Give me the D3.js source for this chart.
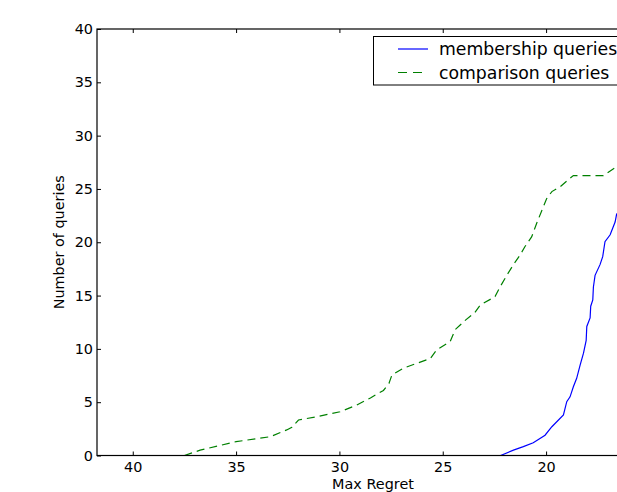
<!DOCTYPE html>
<html>
<head>
<meta charset="utf-8">
<script src="https://cdn.jsdelivr.net/npm/d3@7"></script>
<style>
  html, body { margin: 0; padding: 0; background: #fff; }
  svg { display: block; font-family: "DejaVu Sans", sans-serif; }
</style>
</head>
<body>
<script>
// ---- data ----
const compX = [37.5, 36.74, 35.0, 33.35, 32.55, 32.3, 31.98, 31.1, 29.97, 29.16, 28.5, 27.87, 27.6, 27.46, 26.9, 25.6, 25.3, 24.64, 24.4, 23.9, 23.45, 23.19, 22.47, 22.23, 21.9, 21.58, 21.26, 21.02, 20.7, 20.45, 20.2, 19.97, 19.72, 19.32, 18.84, 18.68, 17.23, 16.58];
const compY = [0, 0.5, 1.3, 1.76, 2.4, 2.65, 3.33, 3.64, 4.1, 4.74, 5.4, 6.1, 6.77, 7.55, 8.2, 9.1, 9.9, 10.68, 11.8, 12.7, 13.4, 14.1, 14.9, 15.8, 16.9, 17.9, 18.8, 19.6, 20.5, 21.8, 23.0, 24.1, 24.75, 25.2, 26.0, 26.25, 26.25, 27.1];
const memX = [22.2, 21.58, 21.1, 20.62, 20.05, 19.72, 19.16, 19.0, 18.84, 18.68, 18.52, 18.35, 18.19, 18.06, 18.03, 17.87, 17.84, 17.74, 17.71, 17.63, 17.39, 17.26, 17.15, 16.9, 16.66, 16.58];
const memY = [0, 0.5, 0.83, 1.2, 1.9, 2.7, 3.8, 5.05, 5.5, 6.45, 7.24, 8.5, 9.6, 10.8, 12.1, 12.9, 14.0, 14.6, 15.8, 16.9, 17.9, 18.65, 20.05, 20.7, 21.9, 22.7];
const xTicks = [40, 35, 30, 25, 20];
const yTicks = [0, 5, 10, 15, 20, 25, 30, 35, 40];
const seriesNames = ["membership queries", "comparison queries"];
const xLabel = "Max Regret";
const yLabel = "Number of queries";

// ---- layout ----
const W = 617, H = 492;
const pL = 97, pR = 649, pT = 29, pB = 455.5;

const svg = d3.select("body").append("svg").attr("width", W).attr("height", H);

const x = d3.scaleLinear().domain([41.73, 15.02]).range([pL, pR]);
const y = d3.scaleLinear().domain([0, 40]).range([pB, pT]);

svg.append("clipPath").attr("id", "clip")
  .append("rect").attr("x", pL).attr("y", pT).attr("width", pR - pL).attr("height", pB - pT);

const line = d3.line().x(d => x(d[0])).y(d => y(d[1]));

const memData = memX.map((v, i) => [v, memY[i]]);
const compData = compX.map((v, i) => [v, compY[i]]);

const plot = svg.append("g").attr("clip-path", "url(#clip)");
plot.append("path").datum(memData).attr("d", line)
  .attr("fill", "none").attr("stroke", "#0000ff").attr("stroke-width", 1.2);
plot.append("path").datum(compData).attr("d", line)
  .attr("fill", "none").attr("stroke", "#008000").attr("stroke-width", 1.2)
  .attr("stroke-dasharray", "8,5");

// axes (ticks inward)
const tickFont = 14.4;
const xb = svg.append("g").attr("transform", `translate(0,${pB})`)
  .call(d3.axisBottom(x).tickValues(xTicks).tickSize(-4).tickPadding(6).tickFormat(d3.format("d")));
const xt = svg.append("g").attr("transform", `translate(0,${pT})`)
  .call(d3.axisTop(x).tickValues(xTicks).tickSize(-4).tickFormat(""));
const yl = svg.append("g").attr("transform", `translate(${pL},0)`)
  .call(d3.axisLeft(y).tickValues(yTicks).tickSize(-4).tickPadding(4).tickFormat(d3.format("d")));
const yr = svg.append("g").attr("transform", `translate(${pR},0)`)
  .call(d3.axisRight(y).tickValues(yTicks).tickSize(-4).tickFormat(""));

[xb, xt, yl, yr].forEach(g => {
  g.select(".domain").remove();
  g.selectAll(".tick line").attr("stroke", "#000").attr("stroke-width", 1);
  g.selectAll("text").attr("font-family", "DejaVu Sans").attr("font-size", tickFont).attr("fill", "#000");
});
xb.selectAll("text").attr("dy", null).attr("y", 16.5);

// frame
svg.append("rect").attr("x", pL).attr("y", pT).attr("width", pR - pL).attr("height", pB - pT)
  .attr("fill", "none").attr("stroke", "#000").attr("stroke-width", 1.2);

// axis labels
svg.append("text").attr("x", (pL + pR) / 2).attr("y", 488.5)
  .attr("text-anchor", "middle").attr("font-size", tickFont).text(xLabel);
svg.append("text").attr("transform", `translate(64,${(pT + pB) / 2}) rotate(-90)`)
  .attr("text-anchor", "middle").attr("font-size", tickFont).text(yLabel);

// legend
const lg = svg.append("g");
lg.append("rect").attr("x", 373.5).attr("y", 36.5).attr("width", 265).attr("height", 48.5)
  .attr("fill", "#fff").attr("stroke", "#000").attr("stroke-width", 1);
const legendRows = [
  { name: seriesNames[0], color: "#0000ff", dash: null, yy: 49 },
  { name: seriesNames[1], color: "#008000", dash: "9,6", yy: 72.5 }
];
legendRows.forEach(r => {
  lg.append("line").attr("x1", 398).attr("x2", 428).attr("y1", r.yy).attr("y2", r.yy)
    .attr("stroke", r.color).attr("stroke-width", 1.2).attr("stroke-dasharray", r.dash);
  lg.append("text").attr("x", 439).attr("y", r.yy).attr("dy", "0.35em")
    .attr("font-size", 17.28).text(r.name);
});
</script>
</body>
</html>
